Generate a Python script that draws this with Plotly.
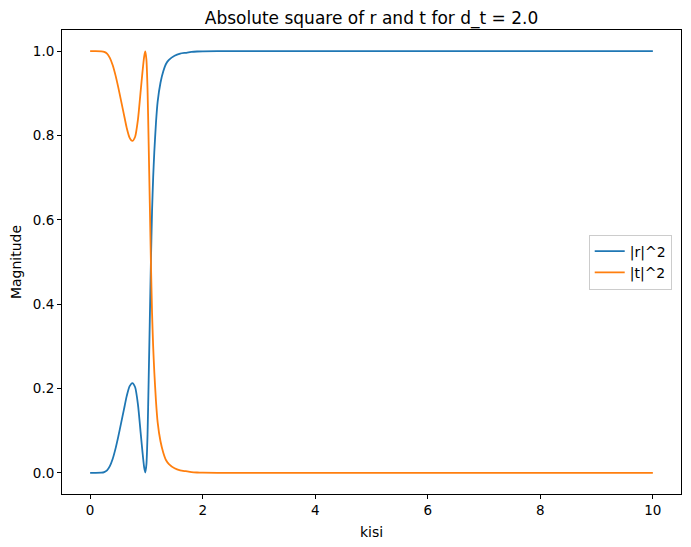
import plotly.graph_objects as go

kisi = [0.0, 0.1, 0.2, 0.25, 0.3, 0.35, 0.4, 0.45, 0.5, 0.55, 0.6, 0.65, 0.7, 0.75,
        0.8, 0.85, 0.9, 0.93, 0.96, 0.98, 1.0, 1.02, 1.04, 1.06, 1.08, 1.10, 1.12,
        1.14, 1.17, 1.2, 1.25, 1.3, 1.35, 1.4, 1.5, 1.6, 1.7, 1.8, 1.9, 2.0, 2.5,
        3.0, 4.0, 5.0, 6.0, 7.0, 8.0, 9.0, 10.0]

r_sq = [0.0, 0.0, 0.0005, 0.002, 0.006, 0.016, 0.033, 0.057, 0.086, 0.118, 0.150,
        0.182, 0.205, 0.213, 0.203, 0.162, 0.092, 0.050, 0.013, 0.001, 0.02, 0.09,
        0.22, 0.36, 0.50, 0.62, 0.70, 0.76, 0.83, 0.88, 0.925, 0.952, 0.970, 0.979,
        0.989, 0.994, 0.996, 0.998, 0.999, 0.9995, 1.0, 1.0, 1.0, 1.0, 1.0, 1.0,
        1.0, 1.0, 1.0]

t_sq = [1.0, 1.0, 0.9995, 0.998, 0.994, 0.984, 0.967, 0.943, 0.914, 0.882, 0.850,
        0.818, 0.795, 0.787, 0.797, 0.838, 0.908, 0.950, 0.987, 0.999, 0.98, 0.91,
        0.78, 0.64, 0.50, 0.38, 0.30, 0.24, 0.17, 0.12, 0.075, 0.048, 0.030, 0.021,
        0.011, 0.006, 0.004, 0.002, 0.001, 0.0005, 0.0, 0.0, 0.0, 0.0, 0.0, 0.0,
        0.0, 0.0, 0.0]

x_ticks = [0, 2, 4, 6, 8, 10]
y_ticks = [0.0, 0.2, 0.4, 0.6, 0.8, 1.0]

fig = go.Figure()
fig.add_trace(go.Scatter(x=kisi, y=r_sq, mode="lines", name="|r|^2",
                         line=dict(color="#1f77b4", width=1.8, shape="spline", smoothing=0.6)))
fig.add_trace(go.Scatter(x=kisi, y=t_sq, mode="lines", name="|t|^2",
                         line=dict(color="#ff7f0e", width=1.8, shape="spline", smoothing=0.6)))

axis_common = dict(showline=True, linecolor="black", linewidth=1, mirror=True,
                   ticks="outside", ticklen=4, tickwidth=1, tickcolor="black",
                   showgrid=False, zeroline=False, automargin=False,
                   tickfont=dict(family="DejaVu Sans", size=13.5, color="black"))

fig.update_layout(
    width=683, height=539,
    margin=dict(l=54, r=10, t=22, b=53),
    paper_bgcolor="white", plot_bgcolor="white",
    font=dict(family="DejaVu Sans", size=14, color="black"),
    title=dict(text="Absolute square of r and t for d_t = 2.0", x=0.5, xref="paper",
               xanchor="center", y=0.982, yref="container", yanchor="middle",
               font=dict(family="DejaVu Sans", size=17, color="black")),
    xaxis=dict(range=[-0.5, 10.5], tickvals=x_ticks,
               title=dict(text="kisi", font=dict(size=14), standoff=9), **axis_common),
    yaxis=dict(range=[-0.05, 1.05], tickvals=y_ticks, tickformat=".1f",
               title=dict(text="Magnitude", font=dict(size=14), standoff=8), **axis_common),
    legend=dict(x=0.985, xanchor="right", y=0.5, yanchor="middle",
                bgcolor="rgba(255,255,255,0.8)", bordercolor="#cccccc", borderwidth=1,
                font=dict(family="DejaVu Sans", size=14), tracegroupgap=0),
    showlegend=True,
)

fig.write_html("out.html")
